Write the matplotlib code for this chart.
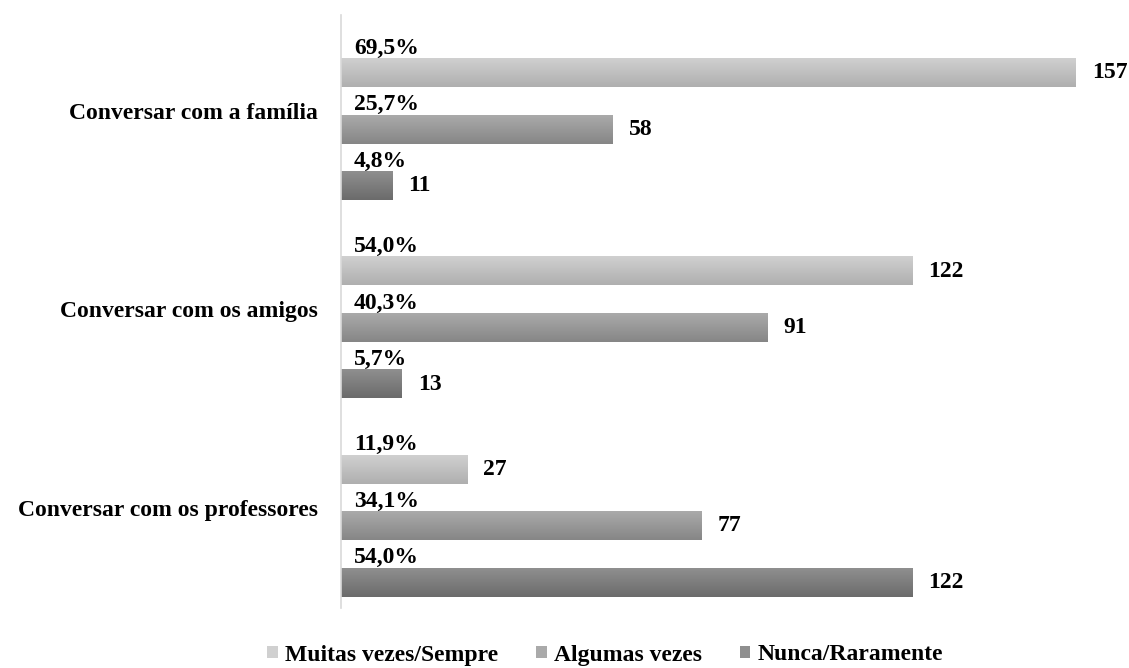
import matplotlib
matplotlib.use('Agg')
import matplotlib.pyplot as plt
from matplotlib.colors import LinearSegmentedColormap
from matplotlib.patches import Patch
import numpy as np

plt.rcParams['font.family'] = ['Liberation Serif', 'DejaVu Serif']
plt.rcParams['font.weight'] = 'bold'

categories = ['Conversar com a família', 'Conversar com os amigos', 'Conversar com os professores']
series = ['Muitas vezes/Sempre', 'Algumas vezes', 'Nunca/Raramente']
counts = [
    [157, 122, 27],   # Muitas vezes/Sempre
    [58, 91, 77],     # Algumas vezes
    [11, 13, 122],    # Nunca/Raramente
]
percents = [
    ['69,5%', '54,0%', '11,9%'],
    ['25,7%', '40,3%', '34,1%'],
    ['4,8%', '5,7%', '54,0%'],
]

# gradient (top, bottom) for each series
grads = [('#d0d0d0', '#afafaf'), ('#aaaaaa', '#868686'), ('#8f8f8f', '#6b6b6b')]

W, H = 1129, 668
fig = plt.figure(figsize=(W / 100, H / 100), dpi=100)
ax_left, ax_right, ax_top, ax_bot = 341, 1120, 15, 608
ax = fig.add_axes([ax_left / W, (H - ax_bot) / H, (ax_right - ax_left) / W, (ax_bot - ax_top) / H])

px_per_unit = (1076 - 341) / 157.0
xmax = (ax_right - ax_left) / px_per_unit
ax.set_xlim(0, xmax)
ax.set_ylim(2.414, -0.576)

offsets = [-0.285, 0.0, 0.285]
bh = 0.145
grad = np.linspace(0, 1, 64).reshape(-1, 1)
fs = 17

for s in range(len(series)):
    cmap = LinearSegmentedColormap.from_list('g%d' % s, [grads[s][0], grads[s][1]])
    for c in range(len(categories)):
        y = c + offsets[s]
        v = counts[s][c]
        ax.imshow(grad, cmap=cmap, aspect='auto', interpolation='bilinear',
                  extent=(0, v, y + bh / 2, y - bh / 2), zorder=2)
        ax.text(v + 16 / px_per_unit, y, str(v), ha='left', va='center',
                fontsize=fs, fontweight='bold', clip_on=False)
        ax.text(13 / px_per_unit, y - 0.124, percents[s][c], ha='left', va='center',
                fontsize=fs, fontweight='bold')

for c, name in enumerate(categories):
    ax.text(-23 / px_per_unit, c - 0.08, name, ha='right', va='center',
            fontsize=fs, fontweight='bold')

ax.set_xticks([])
ax.set_yticks([])
for sp in ['top', 'right', 'bottom']:
    ax.spines[sp].set_visible(False)
ax.spines['left'].set_color('#d9d9d9')
ax.spines['left'].set_linewidth(1.2)

handles = [Patch(facecolor=g[0], edgecolor='none') for g in grads]
fig.legend(handles, series, loc='center', bbox_to_anchor=(0.536, 1 - 655 / H), ncol=3,
           frameon=False, prop={'size': fs, 'weight': 'bold'},
           handlelength=0.45, handleheight=0.45, handletextpad=0.3, columnspacing=1.6,
           borderpad=0.1)

fig.savefig('out.png', dpi=100)
